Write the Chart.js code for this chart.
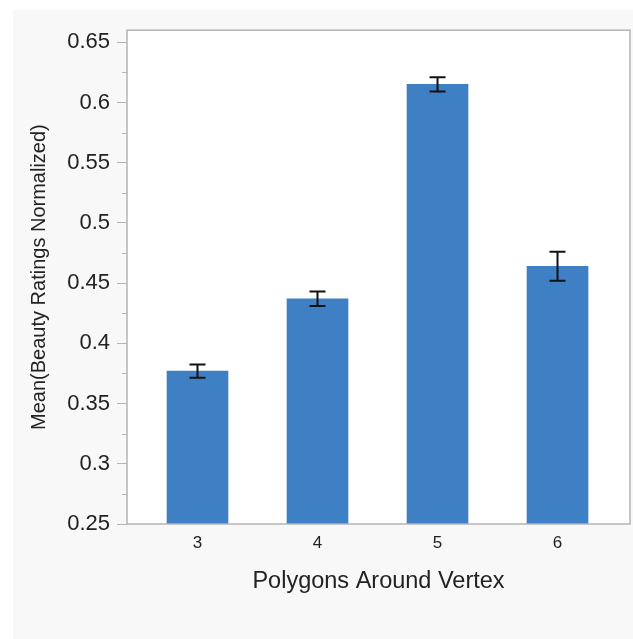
<!DOCTYPE html>
<html>
<head>
<meta charset="utf-8">
<script src="https://cdn.jsdelivr.net/npm/chart.js@4/dist/chart.umd.min.js"></script>
<style>
  html, body { margin: 0; padding: 0; background: #fff; }
  #panel { position: absolute; left: 13px; top: 10px; width: 620px; height: 629px; background: #f8f8f8; }
</style>
</head>
<body>
<div id="panel"><canvas id="chart" width="620" height="629"></canvas></div>
<script>
const categories = [3, 4, 5, 6];
const means = [0.377, 0.437, 0.615, 0.464];
const errors = [0.0055, 0.006, 0.006, 0.012];
const yTicks = [0.25, 0.3, 0.35, 0.4, 0.45, 0.5, 0.55, 0.6, 0.65];

const plotFrame = {
  id: 'plotFrame',
  beforeDraw(chart) {
    const {ctx, chartArea: a} = chart;
    ctx.save();
    ctx.fillStyle = '#fff';
    ctx.fillRect(a.left, a.top, a.right - a.left, a.bottom - a.top);
    ctx.restore();
  },
  afterDraw(chart) {
    const {ctx, chartArea: a} = chart;
    const y = chart.scales.y;
    ctx.save();
    ctx.strokeStyle = '#b4b4b4';
    ctx.lineWidth = 1.5;
    ctx.strokeRect(a.left, a.top, a.right - a.left, a.bottom - a.top);
    // minor ticks halfway between labelled ones
    ctx.lineWidth = 1;
    for (let i = 0; i < yTicks.length - 1; i++) {
      const py = Math.round(y.getPixelForValue((yTicks[i] + yTicks[i + 1]) / 2)) + 0.5;
      ctx.beginPath();
      ctx.moveTo(a.left - 5, py);
      ctx.lineTo(a.left, py);
      ctx.stroke();
    }
    ctx.restore();
  }
};

const errorBars = {
  id: 'errorBars',
  afterDatasetsDraw(chart) {
    const {ctx} = chart;
    const y = chart.scales.y;
    const bars = chart.getDatasetMeta(0).data;
    ctx.save();
    ctx.strokeStyle = '#111';
    ctx.lineWidth = 2;
    bars.forEach((bar, i) => {
      const top = y.getPixelForValue(means[i] + errors[i]);
      const bot = y.getPixelForValue(means[i] - errors[i]);
      const x = bar.x;
      ctx.beginPath();
      ctx.moveTo(x, top); ctx.lineTo(x, bot);
      ctx.moveTo(x - 8, top); ctx.lineTo(x + 8, top);
      ctx.moveTo(x - 8, bot); ctx.lineTo(x + 8, bot);
      ctx.stroke();
    });
    ctx.restore();
  }
};

new Chart(document.getElementById('chart').getContext('2d'), {
  type: 'bar',
  data: {
    datasets: [{
      data: categories.map((c, i) => ({x: c, y: means[i]})),
      backgroundColor: '#3f80c4',
      barThickness: 61
    }]
  },
  options: {
    responsive: false,
    animation: false,
    layout: { padding: { top: 13, right: 3, left: 0, bottom: 0 } },
    plugins: { legend: { display: false }, tooltip: { enabled: false } },
    scales: {
      x: {
        type: 'linear',
        offset: false,
        min: 2.4125,
        max: 6.604,
        afterFit(scale) { scale.height = 115; },
        grid: { display: false },
        border: { display: false },
        ticks: {
          stepSize: 1,
          includeBounds: false,
          color: '#222',
          padding: 1,
          font: { family: 'Liberation Sans', size: 17 }
        },
        title: {
          display: true,
          text: 'Polygons Around Vertex',
          color: '#222',
          font: { family: 'Liberation Sans', size: 23.5 },
          padding: { top: 0, bottom: 43 }
        }
      },
      y: {
        min: 0.25,
        max: 0.66,
        afterFit(scale) { scale.width = 114; },
        afterBuildTicks(scale) { scale.ticks = yTicks.map(v => ({value: v})); },
        grid: { drawOnChartArea: false, drawTicks: true, tickLength: 10, color: '#b4b4b4' },
        border: { display: false },
        ticks: {
          color: '#222',
          padding: 7,
          font: { family: 'Liberation Sans', size: 22 },
          callback: v => String(Number(v.toFixed(2)))
        },
        title: {
          display: true,
          text: 'Mean(Beauty Ratings Normalized)',
          color: '#222',
          font: { family: 'Liberation Sans', size: 20 },
          padding: { top: 14, bottom: 0 }
        }
      }
    }
  },
  plugins: [plotFrame, errorBars]
});
</script>
</body>
</html>
